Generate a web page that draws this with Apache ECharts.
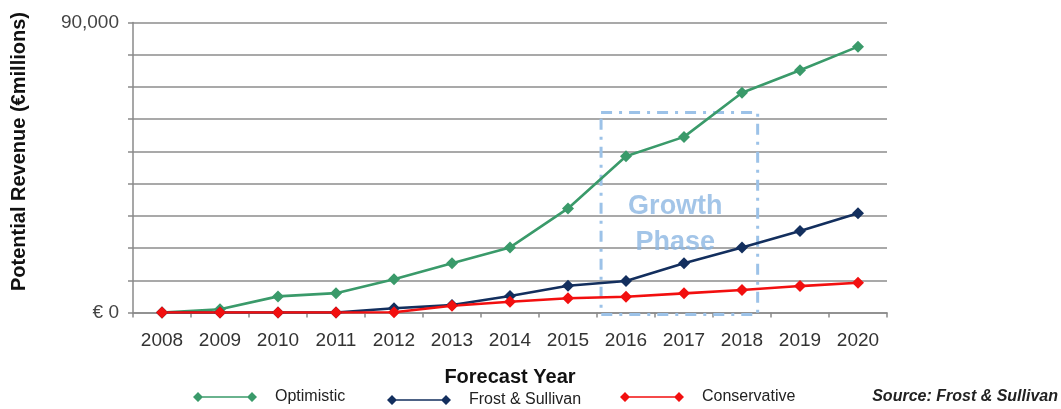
<!DOCTYPE html>
<html>
<head>
<meta charset="utf-8">
<script src="https://cdn.jsdelivr.net/npm/echarts@6/dist/echarts.min.js"></script>
<style>
html,body{margin:0;padding:0;background:#fff;}
#chart{width:1061px;height:409px;}
</style>
</head>
<body>
<div id="chart"></div>
<script>
var categories = ['2008','2009','2010','2011','2012','2013','2014','2015','2016','2017','2018','2019','2020'];
var optimistic = [0, 1000, 5000, 6000, 10300, 15300, 20200, 32300, 48500, 54500, 68200, 75200, 82500];
var frostSullivan = [0, 0, 0, 0, 1300, 2300, 5100, 8300, 9800, 15300, 20200, 25300, 30800];
var conservative = [0, 0, 0, 0, 100, 2100, 3350, 4400, 4900, 5950, 7000, 8200, 9250];
var yTickLabels = {0: '€ 0', 90000: '90,000'};
var seriesNames = ['Optimistic', 'Frost & Sullivan', 'Conservative'];
// Growth phase annotation box in data units (category index, value)
var growthBox = {x0: 7.57, x1: 10.27, top: 62100, bottom: -600};

var FONT = "'Liberation Sans', Arial, sans-serif";
var colors = ['#3a9a6a', '#132f5e', '#f20f0f'];
var legendIcon = 'path://M0,5L5,0L10,5L5,10ZM5,4.2L59,4.2L59,5.8L5,5.8ZM54,5L59,0L64,5L59,10ZM77,5L77,5.01';

var chart = echarts.init(document.getElementById('chart'), null, {renderer: 'canvas'});

function mkSeries(name, data, color) {
  return {
    name: name, type: 'line', data: data,
    symbol: 'diamond', symbolSize: 12,
    lineStyle: {color: color, width: 2.6},
    itemStyle: {color: color},
    animation: false
  };
}
function mkLegend(name, left, top) {
  return {
    data: [name], left: left, top: top, icon: legendIcon,
    itemWidth: 77, itemHeight: 10, padding: 0,
    textStyle: {fontFamily: FONT, fontSize: 16, color: '#222'}
  };
}

chart.setOption({
  animation: false,
  color: colors,
  grid: {left: 133, right: 174, top: 22.5, bottom: 96.5, containLabel: false},
  legend: [
    mkLegend(seriesNames[0], 193, 389),
    mkLegend(seriesNames[1], 387, 392),
    mkLegend(seriesNames[2], 620, 389)
  ],
  xAxis: {
    type: 'category', data: categories, boundaryGap: true,
    name: 'Forecast Year', nameLocation: 'middle', nameGap: 55,
    nameTextStyle: {fontFamily: FONT, fontSize: 20, fontWeight: 'bold', color: '#111'},
    axisLine: {lineStyle: {color: '#8a8a8a', width: 1.5}},
    axisTick: {show: true, inside: false, length: 5, alignWithLabel: false, lineStyle: {color: '#8a8a8a', width: 1.5}},
    axisLabel: {fontFamily: FONT, fontSize: 19, color: '#333', margin: 19}
  },
  yAxis: {
    type: 'value', min: 0, max: 90000, interval: 10000,
    axisLine: {show: true, lineStyle: {color: '#8a8a8a', width: 1.5}},
    axisTick: {show: true, length: 5, lineStyle: {color: '#8a8a8a', width: 1.5}},
    splitLine: {show: true, lineStyle: {color: '#8c8c8c', width: 1.5}},
    axisLabel: {
      fontFamily: FONT, fontSize: 19, color: '#444', margin: 14,
      formatter: function (v) { return yTickLabels[v] !== undefined ? yTickLabels[v] : ''; }
    }
  },
  series: [
    mkSeries(seriesNames[0], optimistic, colors[0]),
    mkSeries(seriesNames[1], frostSullivan, colors[1]),
    mkSeries(seriesNames[2], conservative, colors[2])
  ]
});

function xAt(idx) {
  var i0 = Math.floor(idx), f = idx - i0;
  var p0 = chart.convertToPixel({xAxisIndex: 0}, categories[i0]);
  var p1 = chart.convertToPixel({xAxisIndex: 0}, categories[i0 + 1]);
  return p0 + (p1 - p0) * f;
}
var bx0 = xAt(growthBox.x0), bx1 = xAt(growthBox.x1);
var by0 = chart.convertToPixel({yAxisIndex: 0}, growthBox.top);
var by1 = chart.convertToPixel({yAxisIndex: 0}, growthBox.bottom);
var plotTop = chart.convertToPixel({yAxisIndex: 0}, 90000);
var plotBottom = chart.convertToPixel({yAxisIndex: 0}, 0);

chart.setOption({
  graphic: [
    {
      type: 'rect', z: 1, silent: true,
      shape: {x: bx0, y: by0, width: bx1 - bx0, height: by1 - by0},
      style: {fill: 'none', stroke: '#9cc2e8', lineWidth: 3, lineDash: [11, 7, 3, 7]}
    },
    {
      type: 'text', z: 1, silent: true,
      x: (bx0 + bx1) / 2 - 4, y: by0 + 94,
      style: {text: 'Growth', font: "bold 27px 'Liberation Sans', Arial, sans-serif", fill: 'rgba(140,182,226,0.8)', align: 'center', verticalAlign: 'middle'}
    },
    {
      type: 'text', z: 1, silent: true,
      x: (bx0 + bx1) / 2 - 4, y: by0 + 130,
      style: {text: 'Phase', font: "bold 27px 'Liberation Sans', Arial, sans-serif", fill: 'rgba(140,182,226,0.8)', align: 'center', verticalAlign: 'middle'}
    },
    {
      type: 'text', silent: true,
      x: 19, y: (plotTop + plotBottom) / 2 - 16, rotation: Math.PI / 2,
      style: {text: 'Potential Revenue (€millions)', font: "bold 20px 'Liberation Sans', Arial, sans-serif", fill: '#111', align: 'center', verticalAlign: 'middle'}
    },
    {
      type: 'text', silent: true,
      right: 3, top: 389,
      style: {text: 'Source: Frost & Sullivan', font: "italic bold 16px 'Liberation Sans', Arial, sans-serif", fill: '#222'}
    }
  ]
});
</script>
</body>
</html>
